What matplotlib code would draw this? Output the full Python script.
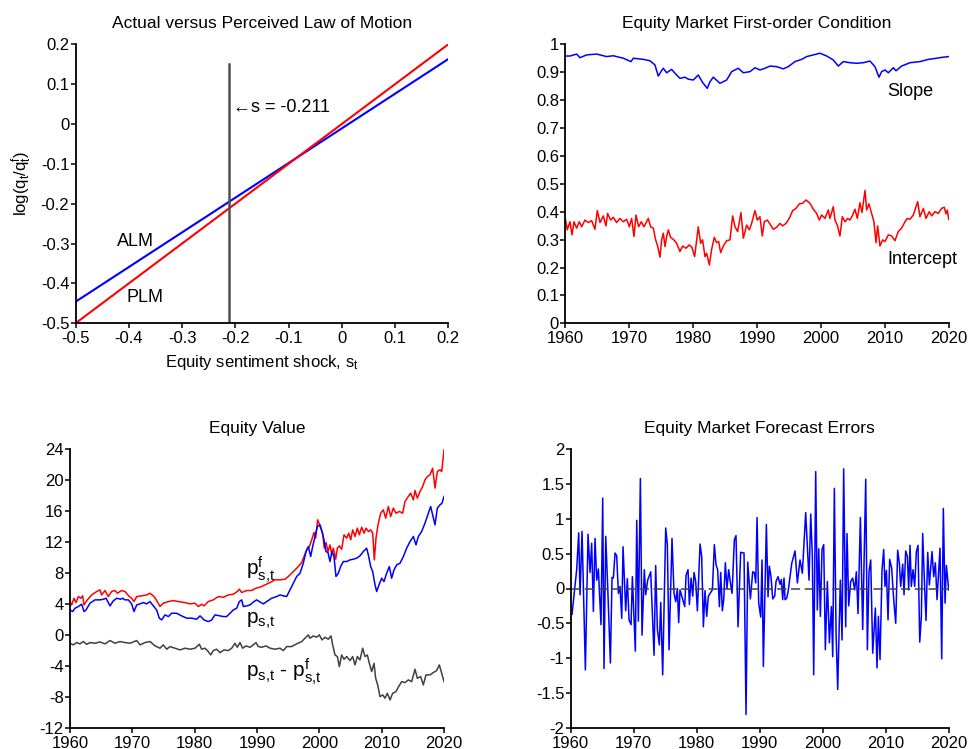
import matplotlib
matplotlib.use("Agg")
import matplotlib.pyplot as plt
from matplotlib.ticker import FuncFormatter

plt.rcParams['font.family'] = ['Liberation Sans', 'DejaVu Sans']
plt.rcParams['mathtext.fontset'] = 'custom'
plt.rcParams['mathtext.rm'] = 'Liberation Sans'
plt.rcParams['mathtext.it'] = 'Liberation Sans'
plt.rcParams['axes.unicode_minus'] = False

# ---------------- Panel 1: ALM vs PLM ----------------
s_grid = [-0.5, 0.2]
alm_vals = [-0.446, 0.163]
plm_vals = [-0.5, 0.2]
s_mean = -0.211
vline_top = 0.15

# ---------------- Panel 2: First-order condition ----------------
slope_years = [1960.0, 1960.73, 1961.77, 1962.30, 1963.34, 1964.90, 1966.47, 1967.51, 1969.08, 1970.28,
               1970.64, 1972.21, 1973.25, 1974.03, 1974.55, 1975.08, 1975.34, 1975.86, 1976.64, 1977.42,
               1977.94, 1978.73, 1979.25, 1980.03, 1980.81, 1981.49, 1982.22, 1982.64, 1983.16, 1984.20,
               1985.25, 1986.03, 1986.55, 1987.07, 1987.86, 1988.90, 1989.68, 1990.46, 1991.25, 1992.03,
               1993.07, 1994.12, 1994.90, 1995.94, 1996.99, 1997.77, 1998.81, 1999.85, 2000.90, 2001.94,
               2002.72, 2003.51, 2004.55, 2005.59, 2006.64, 2007.68, 2008.46, 2009.09, 2009.50, 2010.03,
               2010.55, 2011.33, 2011.75, 2012.63, 2013.94, 2015.50, 2016.81, 2018.11, 2018.89, 2020.0]
slope_vals = [0.958, 0.958, 0.965, 0.952, 0.962, 0.965, 0.956, 0.959, 0.950, 0.938,
              0.950, 0.946, 0.941, 0.926, 0.886, 0.906, 0.914, 0.898, 0.910, 0.890,
              0.878, 0.882, 0.875, 0.872, 0.890, 0.863, 0.842, 0.866, 0.882, 0.860,
              0.872, 0.902, 0.908, 0.914, 0.898, 0.902, 0.916, 0.908, 0.914, 0.922,
              0.920, 0.912, 0.920, 0.938, 0.946, 0.956, 0.962, 0.968, 0.958, 0.944,
              0.922, 0.938, 0.934, 0.932, 0.934, 0.940, 0.920, 0.882, 0.902, 0.908,
              0.898, 0.916, 0.905, 0.922, 0.934, 0.938, 0.946, 0.950, 0.953, 0.956]

icpt_years = [1960.00, 1960.31, 1960.73, 1961.04, 1961.36, 1961.77, 1962.19, 1962.56, 1963.08, 1963.60,
              1964.12, 1964.64, 1965.01, 1965.43, 1965.95, 1966.36, 1966.62, 1967.09, 1967.51, 1968.03,
              1968.55, 1969.08, 1969.60, 1970.02, 1970.38, 1970.75, 1971.06, 1971.48, 1971.89, 1972.31,
              1972.99, 1973.35, 1973.77, 1974.14, 1974.45, 1974.81, 1975.08, 1975.34, 1975.60, 1975.86,
              1976.12, 1976.48, 1976.90, 1977.42, 1977.94, 1978.36, 1978.88, 1979.41, 1979.82, 1980.24,
              1980.55, 1980.81, 1981.18, 1981.49, 1981.86, 1982.12, 1982.54, 1982.90, 1983.32, 1983.68,
              1984.00, 1984.31, 1984.73, 1985.25, 1985.77, 1986.19, 1986.55, 1986.97, 1987.49, 1987.86,
              1988.38, 1988.80, 1989.16, 1989.68, 1990.05, 1990.46, 1990.83, 1991.14, 1991.61, 1992.03,
              1992.55, 1993.07, 1993.59, 1994.01, 1994.53, 1995.05, 1995.58, 1996.10, 1996.62, 1997.14,
              1997.66, 1998.29, 1998.81, 1999.33, 1999.75, 2000.11, 2000.64, 2001.16, 2001.42, 2001.94,
              2002.20, 2002.57, 2002.98, 2003.35, 2003.77, 2004.18, 2004.55, 2004.97, 2005.33, 2005.70,
              2006.11, 2006.43, 2006.90, 2007.16, 2007.52, 2007.94, 2008.30, 2008.62, 2008.88, 2009.24,
              2009.66, 2010.03, 2010.55, 2011.07, 2011.59, 2012.11, 2012.63, 2013.16, 2013.52, 2013.94,
              2014.46, 2015.14, 2015.50, 2016.03, 2016.44, 2016.96, 2017.33, 2017.85, 2018.37, 2018.89,
              2019.31, 2019.57, 2019.78, 2020.00]
icpt_vals = [0.376, 0.335, 0.364, 0.317, 0.364, 0.341, 0.364, 0.346, 0.370, 0.361,
             0.368, 0.337, 0.404, 0.361, 0.385, 0.349, 0.394, 0.370, 0.380, 0.361,
             0.376, 0.364, 0.373, 0.346, 0.376, 0.311, 0.388, 0.346, 0.364, 0.346,
             0.376, 0.346, 0.341, 0.299, 0.277, 0.237, 0.299, 0.323, 0.275, 0.311,
             0.335, 0.308, 0.301, 0.287, 0.257, 0.277, 0.269, 0.281, 0.272, 0.239,
             0.299, 0.346, 0.287, 0.299, 0.239, 0.251, 0.209, 0.265, 0.308, 0.289,
             0.293, 0.253, 0.277, 0.296, 0.299, 0.385, 0.346, 0.329, 0.397, 0.305,
             0.352, 0.335, 0.358, 0.404, 0.370, 0.382, 0.313, 0.364, 0.370, 0.356,
             0.337, 0.344, 0.358, 0.349, 0.358, 0.376, 0.404, 0.412, 0.428, 0.430,
             0.442, 0.430, 0.409, 0.394, 0.370, 0.388, 0.376, 0.406, 0.376, 0.418,
             0.370, 0.352, 0.313, 0.382, 0.364, 0.376, 0.370, 0.388, 0.409, 0.376,
             0.432, 0.397, 0.476, 0.406, 0.428, 0.394, 0.364, 0.289, 0.349, 0.277,
             0.299, 0.293, 0.317, 0.313, 0.296, 0.329, 0.341, 0.364, 0.376, 0.373,
             0.388, 0.436, 0.382, 0.412, 0.376, 0.400, 0.385, 0.400, 0.394, 0.412,
             0.416, 0.392, 0.406, 0.373]

# ---------------- Panel 3: Equity value ----------------
pf_years = [1960.00, 1960.27, 1960.64, 1960.96, 1961.34, 1961.71, 1962.03, 1962.25, 1962.78, 1963.48,
            1964.28, 1964.81, 1965.08, 1965.61, 1966.15, 1966.68, 1967.22, 1967.59, 1968.29, 1968.82,
            1969.52, 1969.89, 1970.27, 1970.70, 1971.50, 1972.30, 1972.83, 1973.48, 1974.01, 1974.44,
            1974.97, 1975.78, 1976.58, 1977.38, 1978.45, 1979.25, 1980.05, 1980.59, 1981.12, 1981.50,
            1982.19, 1982.99, 1983.80, 1984.60, 1985.40, 1986.20, 1986.84, 1987.17, 1987.54, 1988.34,
            1989.14, 1989.84, 1990.48, 1991.28, 1992.09, 1992.89, 1993.69, 1994.49, 1995.03, 1995.56,
            1996.10, 1996.63, 1997.17, 1997.54, 1997.97, 1998.40, 1998.77, 1999.14, 1999.41, 1999.73,
            2000.00, 2000.21, 2000.53, 2000.80, 2001.07, 2001.39, 2001.71, 2001.98, 2002.25, 2002.62,
            2002.89, 2003.21, 2003.58, 2003.96, 2004.39, 2004.71, 2005.03, 2005.35, 2005.72, 2006.10,
            2006.42, 2006.79, 2007.17, 2007.49, 2007.86, 2008.24, 2008.56, 2008.82, 2009.09, 2009.41,
            2009.84, 2010.27, 2010.64, 2011.07, 2011.44, 2011.87, 2012.30, 2012.83, 2013.37, 2013.74,
            2014.28, 2014.65, 2015.08, 2015.35, 2015.72, 2016.15, 2016.58, 2016.95, 2017.33, 2017.75,
            2018.18, 2018.56, 2018.93, 2019.36, 2019.63, 2020.00]
pf_vals = [4.31, 3.88, 4.74, 4.18, 4.96, 4.74, 5.05, 3.88, 4.53, 5.17,
           5.61, 5.82, 5.17, 5.74, 4.96, 5.61, 5.74, 5.39, 5.74, 5.61,
           4.96, 4.74, 4.31, 4.96, 5.05, 5.17, 5.39, 4.96, 4.31, 3.67,
           4.10, 4.31, 4.44, 4.31, 4.18, 4.01, 4.10, 3.67, 3.97, 3.75,
           4.31, 4.53, 4.96, 4.87, 5.17, 5.26, 5.61, 5.91, 5.48, 5.74,
           5.74, 6.04, 6.17, 6.47, 6.77, 7.12, 7.12, 7.20, 7.55, 7.98,
           8.41, 8.84, 9.36, 10.13, 11.00, 11.43, 12.29, 13.24, 12.51, 14.88,
           14.36, 13.80, 13.15, 11.21, 11.94, 10.78, 11.64, 10.48, 11.21, 9.79,
           11.21, 11.51, 11.08, 12.94, 12.51, 13.15, 12.29, 13.58, 12.72, 13.80,
           12.94, 13.93, 13.15, 13.80, 13.37, 13.58, 13.15, 9.70, 12.51, 14.23,
           15.74, 16.17, 15.09, 16.60, 15.31, 16.39, 15.74, 15.96, 15.74, 17.25,
           17.90, 18.33, 17.46, 18.67, 17.68, 18.54, 19.19, 20.05, 20.48, 20.70,
           21.56, 18.97, 21.13, 21.35, 21.13, 23.93]

p_years = [1960.00, 1960.43, 1960.80, 1961.34, 1961.87, 1962.25, 1962.57, 1963.21, 1964.01, 1964.81,
           1965.35, 1965.78, 1966.42, 1966.95, 1967.49, 1968.13, 1968.45, 1968.82, 1969.36, 1969.89,
           1970.27, 1970.70, 1971.23, 1971.76, 1972.30, 1972.83, 1973.37, 1973.90, 1974.33, 1974.71,
           1975.24, 1975.78, 1976.31, 1977.11, 1977.91, 1978.72, 1979.52, 1980.32, 1980.86, 1981.50,
           1982.19, 1982.73, 1983.26, 1984.06, 1984.60, 1985.13, 1985.67, 1986.20, 1986.74, 1987.17,
           1987.54, 1987.81, 1988.34, 1988.88, 1989.52, 1989.95, 1990.37, 1991.02, 1991.55, 1992.35,
           1993.16, 1993.69, 1994.22, 1994.76, 1995.29, 1995.83, 1996.36, 1996.90, 1997.43, 1997.86,
           1998.24, 1998.61, 1998.93, 1999.30, 1999.68, 2000.11, 2000.43, 2000.75, 2001.07, 2001.39,
           2001.71, 2002.03, 2002.35, 2002.67, 2003.05, 2003.42, 2003.85, 2004.39, 2004.92, 2005.45,
           2005.99, 2006.52, 2007.06, 2007.59, 2007.86, 2008.24, 2008.56, 2008.93, 2009.20, 2009.57,
           2010.00, 2010.37, 2010.80, 2011.23, 2011.60, 2011.98, 2012.41, 2012.94, 2013.48, 2014.01,
           2014.55, 2015.08, 2015.51, 2015.88, 2016.42, 2016.95, 2017.49, 2017.86, 2018.18, 2018.56,
           2018.93, 2019.36, 2019.68, 2020.00]
p_vals = [3.23, 3.02, 3.45, 3.67, 3.97, 3.02, 3.23, 4.10, 4.53, 4.53,
          4.61, 4.74, 3.75, 4.40, 4.74, 4.61, 4.74, 4.53, 4.53, 4.01,
          3.02, 3.88, 4.01, 4.18, 4.01, 4.31, 3.75, 3.23, 2.16, 1.94,
          2.59, 2.37, 2.80, 2.80, 2.46, 2.16, 2.16, 2.03, 2.46, 1.94,
          1.72, 1.94, 2.59, 2.46, 2.37, 2.37, 2.80, 3.23, 3.45, 4.31,
          4.53, 3.67, 3.75, 3.88, 4.31, 4.53, 4.31, 4.01, 4.31, 4.74,
          4.96, 5.17, 5.05, 4.96, 5.82, 6.68, 7.55, 7.98, 9.27, 10.78,
          11.43, 10.13, 11.43, 12.72, 14.01, 14.23, 13.37, 12.29, 10.78, 10.65,
          9.49, 10.78, 10.13, 7.55, 7.98, 8.84, 9.49, 9.49, 9.70, 9.79,
          9.92, 10.22, 10.78, 11.21, 10.35, 8.84, 8.19, 6.47, 5.61, 6.47,
          7.33, 6.90, 7.98, 8.84, 7.33, 8.41, 9.06, 9.27, 10.13, 11.21,
          12.07, 12.72, 11.64, 12.72, 13.37, 14.45, 15.74, 16.60, 15.52, 14.23,
          16.39, 16.82, 17.03, 17.90]

gap_years = [1960.00, 1960.53, 1961.07, 1961.60, 1962.14, 1962.67, 1963.21, 1964.01, 1964.81, 1965.61,
             1966.42, 1967.22, 1968.02, 1968.82, 1969.63, 1970.70, 1971.23, 1972.03, 1972.83, 1973.64,
             1974.44, 1974.97, 1975.51, 1976.04, 1976.84, 1977.65, 1978.45, 1979.25, 1980.05, 1980.75,
             1981.12, 1981.66, 1982.19, 1982.57, 1982.99, 1983.53, 1984.06, 1984.71, 1985.40, 1985.94,
             1986.47, 1986.84, 1987.27, 1987.70, 1988.24, 1988.88, 1989.41, 1989.84, 1990.21, 1990.75,
             1991.44, 1992.09, 1992.89, 1993.69, 1994.22, 1994.76, 1995.56, 1996.36, 1997.17, 1997.70,
             1998.24, 1998.50, 1999.04, 1999.57, 2000.00, 2000.43, 2000.91, 2001.44, 2001.87, 2002.14,
             2002.51, 2002.89, 2003.21, 2003.58, 2003.96, 2004.39, 2004.92, 2005.35, 2005.72, 2006.10,
             2006.52, 2006.95, 2007.33, 2007.70, 2008.02, 2008.40, 2008.77, 2009.04, 2009.36, 2009.73,
             2010.16, 2010.53, 2010.91, 2011.34, 2011.76, 2012.30, 2012.73, 2013.21, 2013.74, 2014.28,
             2014.81, 2015.35, 2015.72, 2016.26, 2016.68, 2017.11, 2017.75, 2018.29, 2018.82, 2019.25,
             2019.63, 2020.00]
gap_vals = [-1.08, -1.29, -0.99, -1.16, -0.86, -1.21, -0.99, -1.08, -0.91, -1.16,
            -0.73, -1.08, -0.86, -0.99, -1.08, -0.73, -1.29, -0.99, -0.86, -1.42,
            -1.72, -1.29, -1.85, -1.51, -1.72, -1.94, -1.72, -1.85, -1.72, -1.21,
            -1.85, -1.72, -2.16, -2.59, -2.03, -1.85, -2.29, -1.94, -2.03, -1.72,
            -1.08, -1.60, -0.99, -1.72, -1.42, -1.60, -1.29, -0.99, -1.51, -1.60,
            -1.42, -1.72, -1.85, -1.72, -2.03, -1.51, -1.51, -1.16, -0.86, -0.43,
            0.00, -0.43, -0.13, -0.30, 0.00, -0.65, -0.30, -0.56, -0.13, -1.29,
            -2.59, -2.80, -4.10, -2.59, -3.15, -2.80, -3.32, -2.80, -3.88, -2.80,
            -3.23, -1.72, -2.80, -2.59, -3.67, -4.74, -3.67, -5.61, -6.47, -7.98,
            -7.76, -8.19, -7.55, -8.41, -7.55, -7.33, -6.68, -6.04, -6.17, -5.82,
            -6.04, -4.44, -5.61, -5.39, -6.47, -5.17, -5.17, -4.87, -4.61, -3.88,
            -4.96, -6.04]

# ---------------- Panel 4: Forecast errors ----------------
fe_years = [1960.21, 1960.95, 1961.27, 1961.48, 1961.80, 1962.33, 1962.75, 1963.07, 1963.33, 1963.60,
            1963.86, 1964.13, 1964.39, 1964.81, 1965.08, 1965.29, 1965.56, 1965.87, 1966.30, 1966.56,
            1966.77, 1967.04, 1967.30, 1967.57, 1967.83, 1968.10, 1968.31, 1968.73, 1968.99, 1969.26,
            1969.58, 1969.79, 1970.26, 1970.48, 1970.74, 1971.06, 1971.32, 1971.69, 1971.90, 1972.22,
            1972.70, 1973.23, 1973.49, 1973.76, 1974.07, 1974.29, 1974.60, 1975.08, 1975.34, 1975.61,
            1976.08, 1976.40, 1976.67, 1976.93, 1977.14, 1977.35, 1977.78, 1978.10, 1978.31, 1978.62,
            1978.84, 1979.10, 1979.37, 1979.58, 1979.84, 1980.11, 1980.53, 1980.79, 1981.06, 1981.32,
            1981.59, 1981.85, 1982.12, 1982.49, 1982.80, 1983.07, 1983.33, 1983.60, 1983.81, 1984.07,
            1984.29, 1984.55, 1984.81, 1985.08, 1985.29, 1985.61, 1985.98, 1986.24, 1986.56, 1986.98,
            1987.51, 1987.83, 1988.10, 1988.52, 1988.89, 1989.15, 1989.37, 1989.58, 1989.84, 1990.16,
            1990.37, 1990.58, 1991.06, 1991.32, 1991.53, 1991.80, 1992.06, 1992.38, 1992.59, 1992.91,
            1993.23, 1993.44, 1993.65, 1993.86, 1994.02, 1994.29, 1994.55, 1995.08, 1995.61, 1995.98,
            1996.40, 1996.77, 1997.30, 1997.57, 1997.83, 1998.10, 1998.36, 1998.57, 1998.89, 1999.15,
            1999.37, 1999.63, 1999.89, 2000.16, 2000.42, 2000.74, 2001.06, 2001.38, 2001.59, 2001.85,
            2002.12, 2002.38, 2002.80, 2003.07, 2003.33, 2003.65, 2003.86, 2004.13, 2004.44, 2004.76,
            2005.08, 2005.34, 2005.61, 2005.98, 2006.35, 2006.83, 2007.09, 2007.35, 2007.62, 2007.94,
            2008.36, 2008.62, 2008.84, 2009.10, 2009.42, 2009.68, 2009.89, 2010.11, 2010.37, 2010.63,
            2010.95, 2011.27, 2011.59, 2011.90, 2012.17, 2012.38, 2012.70, 2012.91, 2013.17, 2013.44,
            2013.65, 2013.86, 2014.07, 2014.34, 2014.60, 2014.87, 2015.13, 2015.40, 2015.66, 2015.87,
            2016.14, 2016.40, 2016.67, 2016.93, 2017.35, 2017.62, 2017.88, 2018.15, 2018.62, 2018.89,
            2019.15, 2019.42, 2019.63, 2020.00]
fe_vals = [-0.37, 0.27, 0.80, -0.09, 0.82, -1.17, 0.78, 0.23, 0.65, -0.33,
           0.72, 0.12, 0.28, -0.52, 1.30, -1.15, 0.75, 0.03, -1.07, 0.16,
           0.15, 0.51, 0.47, -0.07, 0.03, -0.43, 0.60, -0.32, 0.14, -0.45,
           -0.52, 0.17, -0.90, 0.98, -0.47, 1.58, -0.67, 0.27, -0.09, 0.12,
           0.24, -0.96, 0.33, -0.59, -0.81, -0.20, -1.24, 0.87, 0.63, -0.88,
           0.72, -0.07, -0.19, 0.00, -0.49, -0.02, -0.16, -0.26, 0.19, 0.27,
           -0.23, 0.15, -0.11, 0.23, 0.10, -0.32, 0.64, 0.46, -0.55, -0.03,
           -0.40, -0.11, -0.07, -0.02, 0.63, 0.34, 0.27, -0.26, 0.23, -0.32,
           -0.16, 0.37, 0.00, 0.27, 0.12, -0.07, 0.70, 0.76, -0.55, 0.52,
           0.51, -1.81, 0.38, -0.15, 0.24, 0.23, 0.08, 1.02, -0.21, -0.41,
           0.41, -1.12, 0.92, -0.12, 0.32, 0.17, -0.15, -0.11, 0.10, 0.17,
           0.06, 0.13, -0.16, 0.15, -0.16, -0.14, -0.02, 0.36, 0.54, 0.08,
           0.41, 0.22, 1.09, 0.59, 0.12, 1.07, 0.46, -1.24, 1.68, -0.31,
           0.57, -0.40, 0.56, 0.63, -0.88, 0.10, -0.78, -0.26, -0.98, 1.44,
           -0.64, -1.45, 0.12, -0.74, 1.72, -0.55, 0.79, -0.25, 0.10, 0.15,
           -0.02, 0.24, -0.36, 1.02, -0.59, 1.57, -0.88, 0.24, 0.41, -0.93,
           -0.28, -1.14, -0.40, -1.02, 0.27, 0.56, 0.03, 0.26, -0.45, 0.42,
           0.29, -0.16, -0.50, 0.55, 0.36, 0.03, 0.35, -0.09, 0.54, 0.46,
           -0.02, 0.62, 0.03, 0.27, 0.03, 0.53, 0.62, -0.77, -0.40, 0.79,
           0.12, -0.46, 0.52, 0.05, 0.53, 0.17, 0.37, -0.16, 0.58, -1.01,
           1.15, -0.21, 0.33, -0.02]

BLUE = '#0000FF'
RED = '#FF0000'
GRAY = '#404040'

TICK_FS = 12
TITLE_FS = 12.5
ANN_FS = 13

fig = plt.figure(figsize=(9.68, 7.49), dpi=100)

def style(ax):
    for side in ('top', 'right'):
        ax.spines[side].set_visible(False)
    for side in ('left', 'bottom'):
        ax.spines[side].set_linewidth(1.3)
    ax.tick_params(direction='out', length=3.5, width=1.1, labelsize=TICK_FS, pad=1)
    ax.tick_params(axis='x', pad=2.2)
    ax.yaxis.set_major_formatter(FuncFormatter(lambda v, p: '%g' % round(v, 6)))
    ax.xaxis.set_major_formatter(FuncFormatter(lambda v, p: '%g' % round(v, 6)))

W, H = 968.0, 749.0
def rect(x0, x1, y0, y1):
    return [x0 / W, 1 - y1 / H, (x1 - x0) / W, (y1 - y0) / H]

# Panel 1
ax1 = fig.add_axes(rect(75.5, 448.3, 44.3, 323.3))
ax1.plot(s_grid, alm_vals, color=BLUE, lw=1.5)
ax1.plot(s_grid, plm_vals, color=RED, lw=1.5)
ax1.plot([s_mean, s_mean], [-0.5, vline_top], color='#505050', lw=1.8)
ax1.set_xlim(-0.5, 0.2)
ax1.set_ylim(-0.5, 0.2)
ax1.set_xticks([-0.5, -0.4, -0.3, -0.2, -0.1, 0, 0.1, 0.2])
ax1.set_yticks([-0.5, -0.4, -0.3, -0.2, -0.1, 0, 0.1, 0.2])
style(ax1)
ax1.set_title('Actual versus Perceived Law of Motion', fontsize=TITLE_FS, pad=12)
ax1.set_xlabel(r'Equity sentiment shock, s$_\mathregular{t}$', fontsize=TICK_FS, labelpad=5)
ax1.set_ylabel(r'log(q$_\mathregular{t}$/q$^\mathregular{f}_\mathregular{t}$)', fontsize=TICK_FS, labelpad=5)
ax1.text(-0.423, -0.294, 'ALM', fontsize=ANN_FS, va='center', ha='left')
ax1.text(-0.404, -0.435, 'PLM', fontsize=ANN_FS, va='center', ha='left')
ax1.text(-0.205, 0.042, '\u2190s = -0.211', fontsize=ANN_FS, va='center', ha='left',
         family=['Liberation Sans', 'DejaVu Sans'])

# Panel 2
ax2 = fig.add_axes(rect(565.3, 948.7, 44.3, 323.3))
ax2.plot(slope_years, slope_vals, color=BLUE, lw=1.1)
ax2.plot(icpt_years, icpt_vals, color=RED, lw=1.1)
ax2.set_xlim(1960, 2020)
ax2.set_ylim(0, 1)
ax2.set_xticks(range(1960, 2021, 10))
ax2.set_yticks([0, 0.1, 0.2, 0.3, 0.4, 0.5, 0.6, 0.7, 0.8, 0.9, 1])
style(ax2)
ax2.set_title('Equity Market First-order Condition', fontsize=TITLE_FS, pad=12)
ax2.text(2010.4, 0.83, 'Slope', fontsize=ANN_FS, va='center', ha='left')
ax2.text(2010.4, 0.23, 'Intercept', fontsize=ANN_FS, va='center', ha='left')

# Panel 3
ax3 = fig.add_axes(rect(70.0, 444.0, 449.3, 727.7))
ax3.plot(pf_years, pf_vals, color=RED, lw=1.1)
ax3.plot(p_years, p_vals, color=BLUE, lw=1.1)
ax3.plot(gap_years, gap_vals, color=GRAY, lw=1.1)
ax3.set_xlim(1960, 2020)
ax3.set_ylim(-12, 24)
ax3.set_xticks(range(1960, 2021, 10))
ax3.set_yticks(range(-12, 25, 4))
style(ax3)
ax3.set_title('Equity Value', fontsize=TITLE_FS, pad=12)
LBL_FS = 15
ax3.text(1988.3, 8.4, r'p$^\mathregular{f}_\mathregular{s{,}t}$', fontsize=LBL_FS, va='center', ha='left')
ax3.text(1988.3, 1.8, r'p$_\mathregular{s{,}t}$', fontsize=LBL_FS, va='center', ha='left')
ax3.text(1988.3, -4.8, r'p$_\mathregular{s{,}t}$ - p$^\mathregular{f}_\mathregular{s{,}t}$', fontsize=LBL_FS,
         va='center', ha='left')

# Panel 4
ax4 = fig.add_axes(rect(570.7, 948.7, 449.3, 727.7))
ax4.plot(fe_years, fe_vals, color=BLUE, lw=1.1)
ax4.axhline(0, color=GRAY, lw=1.1, ls=(0, (6, 3)))
ax4.set_xlim(1960, 2020)
ax4.set_ylim(-2, 2)
ax4.set_xticks(range(1960, 2021, 10))
ax4.set_yticks([-2, -1.5, -1, -0.5, 0, 0.5, 1, 1.5, 2])
style(ax4)
ax4.set_title('Equity Market Forecast Errors', fontsize=TITLE_FS, pad=12)

fig.savefig('out.png', dpi=100)
